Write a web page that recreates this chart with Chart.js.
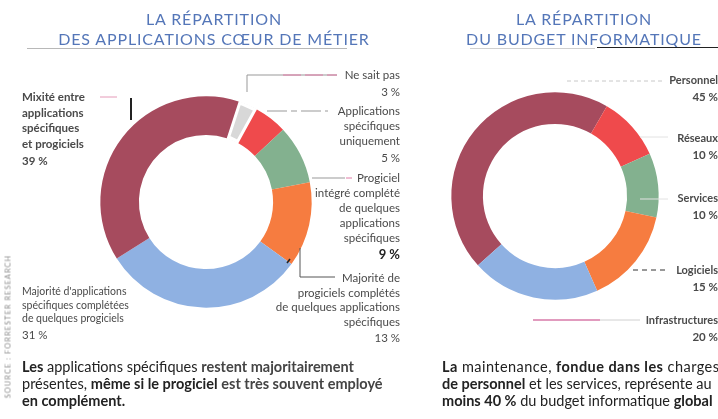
<!DOCTYPE html>
<html>
<head>
<meta charset="utf-8">
<script src="https://cdn.jsdelivr.net/npm/chart.js@4.4.0/dist/chart.umd.min.js"></script>
<style>
    body { margin: 0; background: #fff; }
    #page { position: relative; width: 718px; height: 419px; overflow: hidden; font-family: Lato, "Noto Sans", sans-serif; }
    canvas { position: absolute; left: 0; top: 0; }
    .title { position: absolute; color: #5476b8; font-family: Lato, sans-serif; font-size: 16px; letter-spacing: 0.85px; text-align: center; width: 360px; line-height: 20px; }
    .lbl { position: absolute; font-size: 10.5px; color: #4a4a4a; line-height: 15px; white-space: nowrap; }
    .lbl .v { font-size: 11.5px; margin-top: 2px; }
    .cap { position: absolute; font-size: 14.5px; color: #222; line-height: 17px; white-space: nowrap; }
    .rule { position: absolute; height: 0; border-top: 1.5px solid #b8b8b8; }
    #source { position: absolute; left: -72px; top: 322px; width: 160px; transform: rotate(-90deg); font-size: 7.5px; letter-spacing: 1px; color: #8a8a8a; white-space: nowrap; text-align: center; }
</style>
</head>
<body>
<div id="page">
    <canvas id="apps" width="718" height="419"></canvas>
    <canvas id="budget" width="718" height="419"></canvas>

    <div class="title" style="left:34px;top:9px;">LA RÉPARTITION<br>DES APPLICATIONS CŒUR DE MÉTIER</div>
    <div class="title" style="left:404px;top:9px;">LA RÉPARTITION<br>DU BUDGET INFORMATIQUE</div>
    <div class="rule" style="left:27px;top:48px;width:320px;"></div>
    <div class="rule" style="left:470px;top:48px;width:125px;border-color:#d0d0d0;"></div>
    <div class="rule" style="left:597px;top:47px;width:121px;border-color:#222;"></div>

    <div id="source">SOURCE : FORRESTER RESEARCH</div>

    <div class="cap" style="left:22px;top:358px;"><b>Les</b> applications spécifiques <b style="color:#444">restent majoritairement</b><br>présentes, <b>même si le progiciel</b> <b style="color:#444">est très souvent employé</b><br><b>en complément.</b></div>
    <div class="cap" style="left:442px;top:358px;"><span style="letter-spacing:0.45px"><b>La</b> maintenance, <b>fondue dans les</b> charges</span><br><b>de personnel</b> et les services, représente au<br><b>moins 40 %</b> du budget informatique <b>global</b></div>
</div>

<script>
// left chart, clockwise from the top-right
var appsNames = [
    ['Ne sait pas'],
    ['Applications', 'spécifiques', 'uniquement'],
    ['Progiciel', 'intégré complété', 'de quelques', 'applications', 'spécifiques'],
    ['Majorité de', 'progiciels complétés', 'de quelques applications', 'spécifiques'],
    ["Majorité d'applications", 'spécifiques complétées', 'de quelques progiciels'],
    ['Mixité entre', 'applications', 'spécifiques', 'et progiciels']
];
var appsValues = [3, 5, 9, 13, 31, 39];

// right chart, clockwise from Personnel
var budgetNames = ['Personnel', 'Réseaux', 'Services', 'Logiciels', 'Infrastructures'];
var budgetValues = [45, 10, 10, 15, 20];

var appsColors = ['#d8d8d8', '#ef4a4c', '#83b18f', '#f67c40', '#8fb1e2', '#a64b5e'];
var budgetColors = ['#a64b5e', '#ef4a4c', '#83b18f', '#f67c40', '#8fb1e2'];

var page = document.getElementById('page');

//text labels next to the rings
function addLabel(lines, value, pos) {
    var div = document.createElement('div');
    div.className = 'lbl';
    div.style.top = pos.top + 'px';
    if (pos.align == 'right') {
        div.style.right = (718 - pos.x) + 'px';
        div.style.textAlign = 'right';
    } else {
        div.style.left = pos.x + 'px';
    }
    if (pos.bold) div.style.fontWeight = 'bold';
    if (pos.size) div.style.fontSize = pos.size + 'px';
    if (pos.lh) div.style.lineHeight = pos.lh + 'px';
    lines.forEach(function (l) {
        var d = document.createElement('div');
        d.textContent = l;
        div.appendChild(d);
    });
    var v = document.createElement('div');
    v.className = 'v';
    v.textContent = value + ' %';
    if (pos.big) { v.style.fontWeight = 'bold'; v.style.fontSize = '13px'; v.style.color = '#222'; }
    div.appendChild(v);
    page.appendChild(div);
}

var appsPos = [
    { x: 400, top: 67, align: 'right', size: 11.5 },
    { x: 400, top: 103, align: 'right', size: 11.5 },
    { x: 400, top: 170, align: 'right', size: 11.5, big: true },
    { x: 400, top: 271, align: 'right', size: 11.5, lh: 14.5 },
    { x: 22, top: 285, lh: 13.5 },
    { x: 22, top: 89, bold: true, size: 11.5, lh: 15.5 }
];
appsNames.forEach(function (n, i) { addLabel(n, appsValues[i], appsPos[i]); });

var budgetPos = [72, 130, 190, 262, 312];
budgetNames.forEach(function (n, i) {
    addLabel([n], budgetValues[i], { x: 718, top: budgetPos[i], align: 'right', bold: true, size: 11 });
});

function leaders(lines) {
    return {
        id: 'leaders',
        afterDraw: function (chart) {
            var ctx = chart.ctx;
            lines.forEach(function (l) {
                ctx.save();
                ctx.strokeStyle = l.color;
                ctx.lineWidth = l.width || 1;
                ctx.setLineDash(l.dash || []);
                ctx.beginPath();
                l.pts.forEach(function (p, i) {
                    if (i) ctx.lineTo(p[0], p[1]); else ctx.moveTo(p[0], p[1]);
                });
                ctx.stroke();
                ctx.restore();
            });
        }
    };
}

function ring(id, labels, values, colors, opts) {
    return new Chart(document.getElementById(id), {
        type: 'doughnut',
        data: {
            labels: labels,
            datasets: [{
                data: values,
                backgroundColor: colors,
                borderColor: '#fff',
                borderWidth: opts.borders,
                borderAlign: 'inner',
                hoverOffset: 0
            }]
        },
        options: {
            responsive: false,
            animation: false,
            events: [],
            rotation: opts.rotation,
            radius: opts.radius,
            cutout: opts.cutout,
            layout: { padding: opts.padding },
            plugins: { legend: { display: false }, tooltip: { enabled: false } }
        },
        plugins: [leaders(opts.lines)]
    });
}

ring('apps', appsNames.map(function (n) { return n.join(' '); }), appsValues, appsColors, {
    rotation: 18,
    radius: 106,
    cutout: '63%',
    borders: [3, 0, 0, 0, 0, 0],
    padding: { left: 100, right: 406, top: 96, bottom: 111 },
    lines: [
        { color: '#e59ab8', pts: [[100, 97], [117, 97]] },
        { color: '#222', width: 2, pts: [[131, 98], [131, 120]] },
        { color: '#999', pts: [[337, 75], [247, 75], [247, 92]] },
        { color: '#e07aa6', pts: [[283, 75], [337, 75]], dash: [18, 4] },
        { color: '#999', pts: [[267, 111], [328, 111]], dash: [20, 4, 6, 4] },
        { color: '#999', pts: [[312, 178], [345, 178]] },
        { color: '#e07aa6', pts: [[346, 178], [352, 178]] },
        { color: '#555', pts: [[300, 248], [300, 277], [335, 277]] },
        { color: '#222', width: 1.5, pts: [[287, 263], [290, 259]] }
    ]
});

ring('budget', budgetNames, budgetValues, budgetColors, {
    rotation: -132,
    radius: 104,
    cutout: '69%',
    borders: 0,
    padding: { left: 451, right: 59, top: 92, bottom: 119 },
    lines: [
        { color: '#c8c8c8', pts: [[567, 81], [665, 81]], dash: [4, 3] },
        { color: '#e2e2e2', pts: [[640, 137], [668, 137]] },
        { color: '#e2e2e2', pts: [[640, 199], [668, 199]] },
        { color: '#333', pts: [[633, 270], [665, 270]], dash: [5, 4] },
        { color: '#d77aa8', width: 1.5, pts: [[533, 320], [600, 320]] },
        { color: '#d0d0d0', pts: [[600, 320], [640, 320]] }
    ]
});
</script>
</body>
</html>
